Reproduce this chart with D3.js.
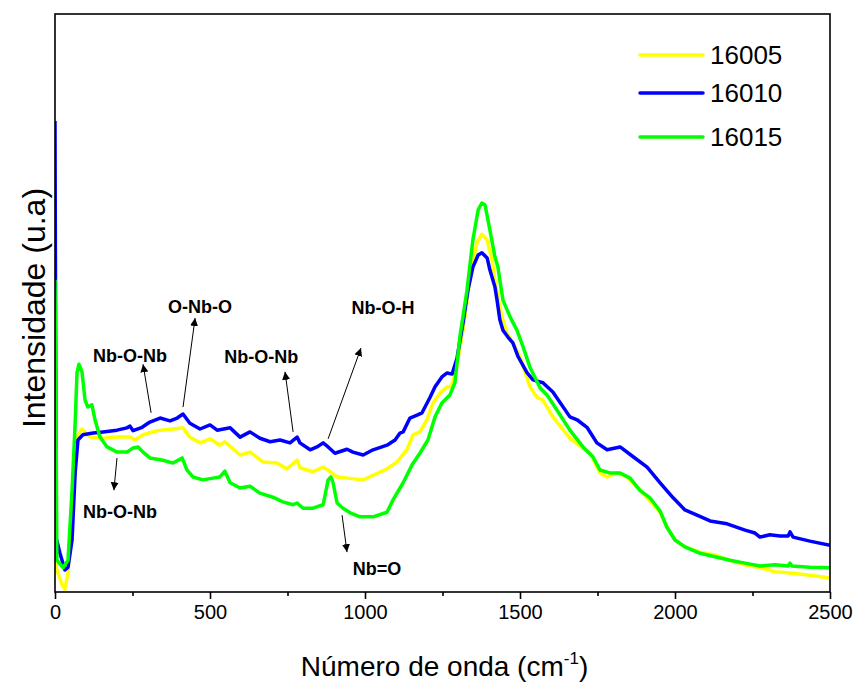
<!DOCTYPE html>
<html><head><meta charset="utf-8">
<script src="https://cdn.jsdelivr.net/npm/d3@7"></script>
<style>body{margin:0;background:#fff}</style>
</head><body>
<svg id="c" width="860" height="689"></svg>
<script>
// ---------- data (wavenumber cm-1, intensity a.u.) ----------
const seriesNames = ["16005","16010","16015"];
const seriesColors = ["#FFFF00","#0000FF","#00FF00"];

const w16005 = [0,6,23,32,42,55,65,74,87,113,155,200,242,258,284,329,381,413,435,468,500,532,548,597,629,671,716,748,781,790,832,865,881,910,942,994,1026,1071,1103,1135,1155,1177,1200,1219,1242,1265,1277,1290,1316,1339,1361,1377,1394,1410,1419,1429,1442,1458,1477,1500,1532,1555,1574,1606,1661,1703,1726,1758,1781,1813,1845,1877,1910,1952,1974,2000,2032,2081,2129,2177,2226,2274,2323,2371,2435,2500];
const i16005 = [6.0,3.8,1.2,0.5,3.3,11.9,21.6,27.2,28.2,26.8,26.6,26.8,26.8,26.3,27.2,27.9,28.2,28.4,26.8,25.8,26.5,25.4,26.0,23.7,24.2,22.5,22.3,21.3,22.8,21.5,20.8,21.6,21.1,19.9,19.7,19.4,20.2,21.3,22.5,24.6,27.2,27.7,29.8,32.7,34.4,35.5,35.5,37.5,45.3,54.5,60.4,61.9,60.9,57.4,54.0,51.0,47.6,44.8,43.1,40.7,35.5,33.7,33.2,30.3,26.6,24.9,24.0,20.6,19.9,20.6,19.9,18.2,16.3,13.8,11.2,9.0,7.8,6.9,6.4,5.5,4.7,4.2,3.5,3.3,2.9,2.4];

const w16010 = [0,4,16,32,42,55,65,74,90,123,155,200,232,242,252,281,306,339,371,394,413,435,468,500,523,565,597,629,661,694,726,758,781,790,823,845,865,881,903,942,961,994,1026,1071,1097,1113,1123,1145,1168,1184,1210,1226,1248,1265,1281,1297,1316,1332,1348,1365,1377,1394,1403,1419,1426,1435,1445,1461,1477,1494,1523,1542,1574,1606,1661,1684,1716,1748,1781,1823,1865,1910,1952,1994,2032,2071,2113,2168,2226,2258,2274,2306,2339,2365,2371,2381,2435,2500];
const i16010 = [81.5,9.3,6.7,3.8,4.3,9.0,20.6,26.3,27.2,27.5,27.7,28.0,28.4,28.7,27.9,28.5,29.4,30.1,29.6,30.1,30.8,29.2,28.2,28.9,28.0,28.4,26.8,27.7,26.6,26.0,26.3,25.8,26.8,25.8,24.6,25.1,25.8,25.1,24.0,24.7,24.2,23.7,24.6,25.4,26.3,27.5,27.7,30.1,30.6,31.0,33.7,35.5,37.2,37.9,37.7,40.5,46.5,52.2,56.2,58.3,58.7,57.8,55.7,52.8,50.5,47.1,45.3,44.1,43.1,40.7,37.9,36.7,36.2,34.6,30.3,29.8,28.5,25.8,24.6,25.1,23.4,21.6,18.9,16.3,14.2,13.3,12.3,11.8,10.7,10.2,9.5,9.9,9.7,9.7,10.4,9.5,8.8,8.1];

const w16015 = [0,4,6,26,42,55,65,71,77,87,97,106,119,129,145,168,200,232,252,268,284,306,348,381,410,426,445,477,510,532,548,565,597,629,661,703,735,768,781,800,832,865,881,890,897,910,929,952,984,1026,1071,1090,1123,1152,1177,1203,1226,1248,1274,1290,1306,1329,1348,1365,1377,1387,1403,1419,1429,1435,1445,1468,1490,1510,1532,1565,1587,1619,1661,1703,1735,1758,1790,1823,1855,1887,1919,1952,1974,2000,2032,2081,2129,2177,2226,2274,2323,2365,2371,2377,2435,2500];
const i16015 = [54.0,24.6,5.5,4.2,5.5,17.6,29.2,37.9,39.4,38.1,33.2,32.0,32.4,29.8,26.8,25.1,24.2,24.2,24.9,25.1,24.2,23.2,22.8,22.3,23.2,21.1,19.9,19.4,19.7,19.9,20.9,18.9,18.0,18.3,17.1,16.4,15.6,15.1,15.4,14.5,14.5,15.1,19.4,19.9,18.9,15.4,14.5,13.7,13.0,13.0,13.8,15.9,18.9,22.0,24.0,26.3,30.3,32.7,34.1,36.2,44.1,52.2,60.9,66.1,67.3,67.0,62.6,58.0,56.2,54.0,50.5,47.6,45.3,42.4,38.9,35.3,34.1,31.5,28.0,25.1,23.4,21.1,20.6,20.6,19.7,17.6,16.3,14.0,11.2,9.0,7.8,6.7,6.1,5.5,5.0,4.5,4.7,4.5,5.0,4.5,4.3,4.2];

const xTicks = [0,500,1000,1500,2000,2500];
const xMinorTicks = [250,750,1250,1750,2250];

// annotations: label, text position (w, I)
const annLabels = ["Nb-O-Nb","O-Nb-O","Nb-O-Nb","Nb-O-H","Nb-O-Nb","Nb=O"];
const annW = [242,468,665,1058,210,1039];
const annI = [39.8,48.3,39.6,48.1,12.8,2.9];
// arrows: tail (w,I) -> head (w,I)
const arrW0 = [310,413,768,881,200,926];
const arrI0 = [31.0,32.0,27.7,26.5,23.2,13.3];
const arrW1 = [284,452,742,987,190,942];
const arrI1 = [39.4,47.4,38.1,42.2,17.6,6.9];

// ---------- chart ----------
const svg = d3.select("#c");
const L = 55, R = 830, T = 14, B = 592;
const x = d3.scaleLinear().domain([0,2500]).range([L,R]);
const y = d3.scaleLinear().domain([0,100]).range([B,T]);
const font = "'Liberation Sans', Arial, sans-serif";

svg.append("defs").append("clipPath").attr("id","clip")
  .append("rect").attr("x",L).attr("y",T).attr("width",R-L).attr("height",B-T);

const series = [
  {w:w16005, v:i16005},
  {w:w16010, v:i16010},
  {w:w16015, v:i16015}
];
const line = d3.line().x(d=>x(d[0])).y(d=>y(d[1]));
series.forEach((s,k)=>{
  svg.append("path")
    .attr("clip-path","url(#clip)")
    .attr("d", line(s.w.map((w,j)=>[w,s.v[j]])))
    .attr("fill","none").attr("stroke",seriesColors[k])
    .attr("stroke-width",3.5).attr("stroke-linejoin","round");
});

// frame
svg.append("rect").attr("x",L).attr("y",T).attr("width",R-L).attr("height",B-T)
  .attr("fill","none").attr("stroke","#000").attr("stroke-width",1.6);

// x axis
const xAxis = svg.append("g").attr("transform",`translate(0,${B})`)
  .call(d3.axisBottom(x).tickValues(xTicks).tickSize(7).tickPadding(6).tickFormat(d3.format("d")));
xAxis.select(".domain").remove();
xAxis.selectAll("line").attr("stroke","#000").attr("stroke-width",1.6);
xAxis.selectAll("text").attr("font-family",font).attr("font-size",20).attr("fill","#000");
const xMinor = svg.append("g").attr("transform",`translate(0,${B})`)
  .call(d3.axisBottom(x).tickValues(xMinorTicks).tickSize(4).tickFormat(""));
xMinor.select(".domain").remove();
xMinor.selectAll("line").attr("stroke","#000").attr("stroke-width",1.6);

// axis titles
const xt = svg.append("text").attr("x",(L+R)/2+2).attr("y",676).attr("text-anchor","middle")
  .attr("font-family",font).attr("font-size",28).attr("fill","#000");
xt.append("tspan").text("Número de onda (cm");
xt.append("tspan").text("-1").attr("font-size",17).attr("dy",-12);
xt.append("tspan").text(")").attr("dy",12);

svg.append("text").attr("transform",`translate(45,308) rotate(-90)`)
  .attr("text-anchor","middle").attr("font-family",font).attr("font-size",32).attr("fill","#000")
  .text("Intensidade (u.a)");

// legend
const lg = svg.append("g");
const legY = [55,93,137];
seriesNames.forEach((n,k)=>{
  lg.append("line").attr("x1",640).attr("x2",703).attr("y1",legY[k]).attr("y2",legY[k])
    .attr("stroke",seriesColors[k]).attr("stroke-width",3.5).attr("stroke-linecap","round");
  lg.append("text").attr("x",710).attr("y",legY[k]+9).attr("font-family",font)
    .attr("font-size",26).attr("fill","#000").text(n);
});

// annotations
svg.append("defs").append("marker").attr("id","ah").attr("viewBox","0 0 10 10")
  .attr("refX",10).attr("refY",5).attr("markerWidth",8).attr("markerHeight",8)
  .attr("markerUnits","userSpaceOnUse").attr("orient","auto")
  .append("path").attr("d","M0,0 L10,5 L0,10 Z").attr("fill","#000");
annLabels.forEach((t,k)=>{
  svg.append("text").attr("x",x(annW[k])).attr("y",y(annI[k])).attr("text-anchor","middle")
    .attr("font-family",font).attr("font-weight","bold").attr("font-size",18).attr("fill","#000").text(t);
  svg.append("line").attr("x1",x(arrW0[k])).attr("y1",y(arrI0[k]))
    .attr("x2",x(arrW1[k])).attr("y2",y(arrI1[k]))
    .attr("stroke","#000").attr("stroke-width",1).attr("marker-end","url(#ah)");
});
</script>
</body></html>
